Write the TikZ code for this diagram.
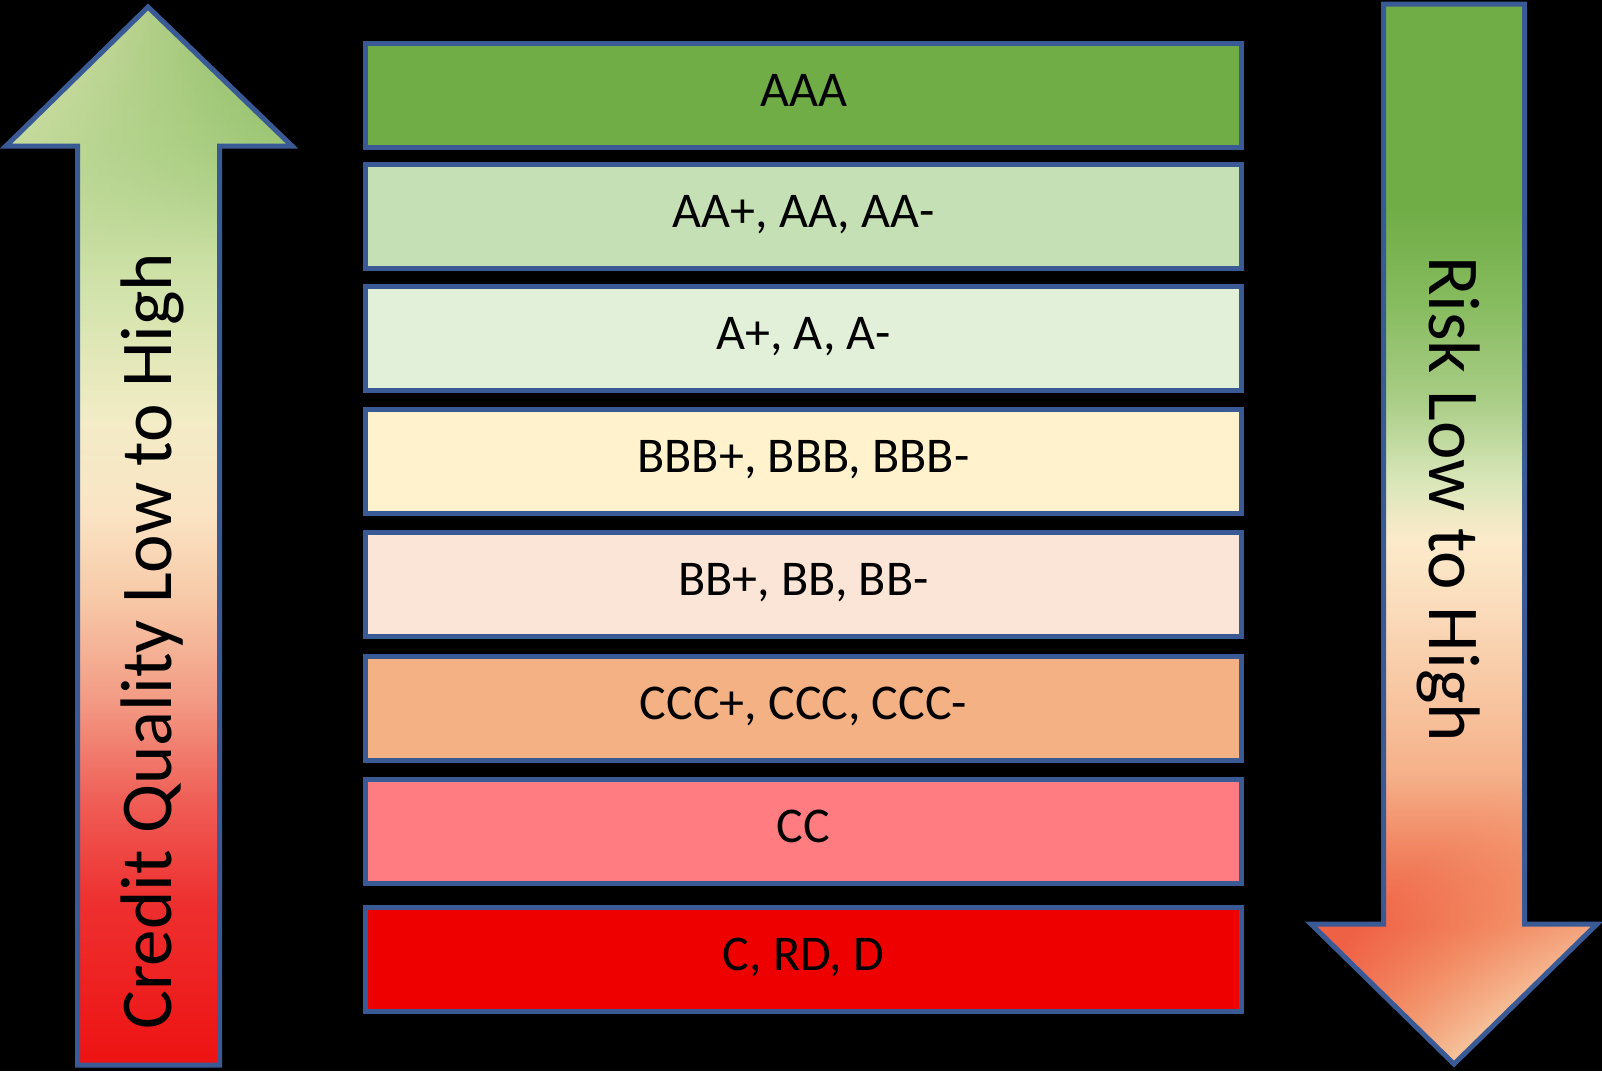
\documentclass[tikz,border=0pt]{standalone}
\usepackage{fontspec}
\setmainfont{Carlito}
\usetikzlibrary{fadings}
\definecolor{edgeblue}{HTML}{3A5A96}
\definecolor{cAAA}{HTML}{70AD47}
\definecolor{cAA}{HTML}{C5E0B4}
\definecolor{cA}{HTML}{E2F0D9}
\definecolor{cBBB}{HTML}{FFF2CC}
\definecolor{cBB}{HTML}{FBE5D6}
\definecolor{cCCC}{HTML}{F4B183}
\definecolor{cCC}{HTML}{FF7C80}
\definecolor{cC}{HTML}{EE0000}
% left arrow stops
\definecolor{la1}{HTML}{EE1212}
\definecolor{la2}{HTML}{EE3030}
\definecolor{la3}{HTML}{EF5E56}
\definecolor{la4}{HTML}{F39A84}
\definecolor{la5}{HTML}{F7C8A6}
\definecolor{la6}{HTML}{FAE4C4}
\definecolor{la7}{HTML}{F3ECC6}
\definecolor{la8}{HTML}{D5E4AE}
\definecolor{la9}{HTML}{B0D38A}
\definecolor{la10}{HTML}{A3CB7A}
% right arrow stops
\definecolor{ra1}{HTML}{F4B088}
\definecolor{ra2}{HTML}{F2825C}
\definecolor{ra3}{HTML}{F4A27A}
\definecolor{ra4}{HTML}{F7C09A}
\definecolor{ra5}{HTML}{FAD9B8}
\definecolor{ra6}{HTML}{FCEBCB}
\definecolor{ra7}{HTML}{D8E6B8}
\definecolor{ra8}{HTML}{A9CD86}
\definecolor{ra9}{HTML}{86BB5E}
\definecolor{ra10}{HTML}{70AD47}
\definecolor{hred}{HTML}{EE4530}
\definecolor{hmid}{HTML}{F2865E}
\definecolor{hpeach}{HTML}{F7C7A0}
\pgfdeclareverticalshading{creditshade}{100bp}{color(0bp)=(la1); color(25bp)=(la1); color(32.77bp)=(la2); color(37.48bp)=(la3); color(42.19bp)=(la4); color(46.89bp)=(la5); color(51.13bp)=(la6); color(55.37bp)=(la7); color(61bp)=(la8); color(68.08bp)=(la9); color(75bp)=(la10); color(100bp)=(la10)}
\pgfdeclareverticalshading{riskshade}{100bp}{color(0bp)=(ra1); color(25bp)=(ra1); color(31.44bp)=(ra2); color(36.14bp)=(ra3); color(41.31bp)=(ra4); color(46bp)=(ra5); color(49.77bp)=(ra6); color(52.58bp)=(ra7); color(56.34bp)=(ra8); color(61.04bp)=(ra9); color(65.27bp)=(ra10); color(75bp)=(ra10); color(100bp)=(ra10)}
\pgfdeclarehorizontalshading{headshade}{100bp}{color(0bp)=(hred); color(37bp)=(hred); color(50bp)=(hmid); color(63bp)=(hpeach); color(100bp)=(hpeach)}
\tikzfading[name=fadeup, top color=transparent!100, middle color=transparent!0, bottom color=transparent!0]
\tikzfading[name=fadedown, top color=transparent!0, middle color=transparent!0, bottom color=transparent!100]
\tikzset{
  rating/.style={draw=edgeblue, line width=5pt, minimum width=876pt, minimum height=104pt,
    inner sep=0pt, text height=32pt, text depth=10pt, font=\fontsize{50}{60}\selectfont, text=black},
  arrowedge/.style={draw=edgeblue, line width=5pt, line join=miter},
  arrowtext/.style={anchor=base, inner sep=0pt, font=\fontsize{73}{88}\selectfont, text=black},
}
\def\leftarrowpath{(148,7) -- (292,146) -- (219.5,146) -- (219.5,1065) -- (77.5,1065) -- (77.5,146) -- (6,146) -- cycle}
\def\rightarrowpath{(1383.5,4) -- (1524.5,4) -- (1524.5,924) -- (1597,924) -- (1454,1064) -- (1311,924) -- (1383.5,924) -- cycle}
\begin{document}
\begin{tikzpicture}[x=1pt,y=-1pt]
\fill[black] (0,0) rectangle (1602,1071);
\useasboundingbox (0,0) rectangle (1602,1071);
% left arrow
\shade[shading=creditshade] \leftarrowpath;
\begin{scope}
  \clip \leftarrowpath;
  \shade[left color=la7!60!la8, middle color=la9, right color=cAAA!75!la9, path fading=fadedown] (0,0) rectangle (300,250);
\end{scope}
\draw[arrowedge] \leftarrowpath;
% right arrow
\shade[shading=riskshade] \rightarrowpath;
\begin{scope}
  \clip \rightarrowpath;
  \shade[shading=headshade, shading angle=-45, path fading=fadeup] (1300,780) rectangle (1665,1060);
\end{scope}
\draw[arrowedge] \rightarrowpath;
% arrow labels
\node[arrowtext, rotate=90] (credit) at (171,641) {Credit Quality Low to High};
\node[arrowtext, rotate=-90] (risk) at (1429,499) {Risk Low to High};
% rating boxes
\node[rating, fill=cAAA] (aaa) at (803.5,95) {AAA};
\node[rating, fill=cAA] (aa) at (803.5,216) {AA+, AA, AA-};
\node[rating, fill=cA] (a) at (803.5,338) {A+, A, A-};
\node[rating, fill=cBBB] (bbb) at (803.5,461) {BBB+, BBB, BBB-};
\node[rating, fill=cBB] (bb) at (803.5,584) {BB+, BB, BB-};
\node[rating, fill=cCCC] (ccc) at (803.5,708) {CCC+, CCC, CCC-};
\node[rating, fill=cCC] (cc) at (803.5,831) {CC};
\node[rating, fill=cC] (c) at (803.5,959) {C, RD, D};
\end{tikzpicture}
\end{document}
